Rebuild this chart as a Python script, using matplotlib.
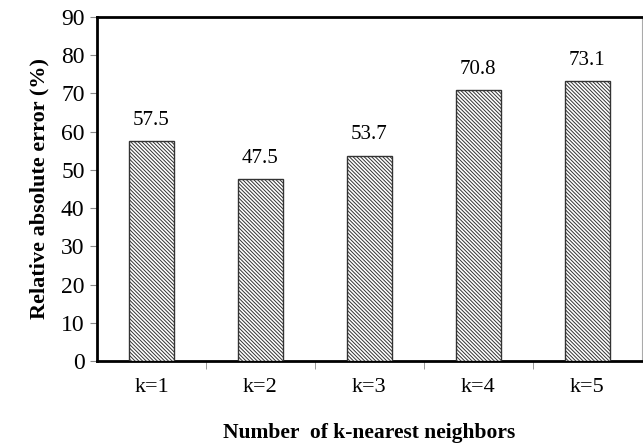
import numpy as np
import matplotlib
matplotlib.use('Agg')
import matplotlib.pyplot as plt

labels = ['k=1', 'k=2', 'k=3', 'k=4', 'k=5']
errors = [57.5, 47.5, 53.7, 70.8, 73.1]

plt.rcParams['font.family'] = ['Liberation Serif', 'DejaVu Serif']
plt.rcParams['hatch.linewidth'] = 0.7
plt.rcParams['hatch.color'] = '#333333'

fig = plt.figure(figsize=(6.43, 4.43), dpi=100)
ax = fig.add_axes([0.151, 0.185, 0.847, 0.777])

x = np.arange(len(labels))
bars = ax.bar(x, errors, width=0.41, color='white', edgecolor='#333333',
              hatch='\\' * 9, linewidth=1.0, zorder=3)

for xi, v in zip(x, errors):
    ax.text(xi, v + 3, '%.1f' % v, ha='center', va='bottom', fontsize=15)

ax.set_xlim(-0.5, len(labels) - 0.5)
ax.set_ylim(0, 90)
ax.set_yticks(range(0, 91, 10))
ax.tick_params(axis='y', labelsize=17, length=5, color='#888888', direction='out', pad=4)
ax.set_xticks(x)
ax.set_xticklabels(labels, fontsize=16)
ax.tick_params(axis='x', length=0, pad=12)
ax.set_xticks(np.arange(0.5, len(labels) - 1, 1), minor=True)
ax.tick_params(axis='x', which='minor', length=6, color='#888888', direction='out')

for s in ['left', 'top', 'bottom']:
    ax.spines[s].set_linewidth(2)
    ax.spines[s].set_color('black')
ax.spines['right'].set_linewidth(0.8)
ax.spines['right'].set_color('#aaaaaa')

ax.set_ylabel('Relative absolute error (%)', fontsize=16, fontweight='bold', labelpad=8)
ax.set_xlabel('Number  of k-nearest neighbors', fontsize=15.5, fontweight='bold', labelpad=19)

fig.savefig('out.png', dpi=100)
